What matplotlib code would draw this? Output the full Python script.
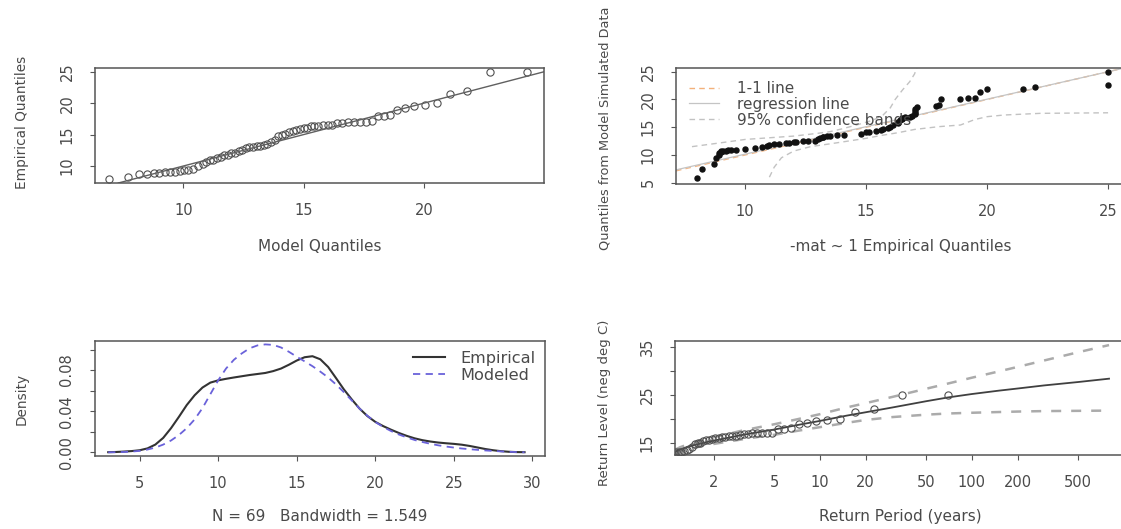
import matplotlib
matplotlib.use("Agg")
import matplotlib.pyplot as plt
from matplotlib.lines import Line2D

# ---------------- data ----------------
model_quantiles = [6.9, 7.7, 8.15, 8.5, 8.8, 9.0, 9.25, 9.45, 9.65, 9.85,
                   10.05, 10.2, 10.4, 10.6, 10.8, 10.95, 11.1, 11.25, 11.4, 11.55,
                   11.7, 11.85, 12.0, 12.15, 12.3, 12.45, 12.6, 12.75, 12.9, 13.05,
                   13.2, 13.35, 13.5, 13.65, 13.8, 13.95, 14.1, 14.25, 14.4, 14.55,
                   14.7, 14.85, 15.0, 15.15, 15.3, 15.45, 15.6, 15.8, 16.0, 16.2,
                   16.4, 16.6, 16.85, 17.1, 17.35, 17.6, 17.85, 18.1, 18.35, 18.6,
                   18.9, 19.2, 19.6, 20.05, 20.55, 21.1, 21.8, 22.75, 24.3]
empirical_sorted = [8.0, 8.2, 8.7, 8.8, 8.9, 8.9, 9.0, 9.0, 9.1, 9.2,
                    9.3, 9.4, 9.6, 10.0, 10.4, 10.7, 10.9, 11.0, 11.2, 11.4,
                    11.7, 11.8, 12.0, 12.1, 12.4, 12.6, 12.9, 13.0, 13.1, 13.2,
                    13.2, 13.4, 13.5, 13.8, 14.1, 14.8, 15.0, 15.1, 15.4, 15.6,
                    15.7, 15.9, 16.0, 16.1, 16.3, 16.3, 16.4, 16.5, 16.5, 16.6,
                    16.8, 16.9, 17.0, 17.0, 17.0, 17.0, 17.1, 17.9, 18.0, 18.1,
                    18.9, 19.2, 19.5, 19.7, 20.0, 21.5, 22.0, 25.0, 25.0]
simulated_sorted = [5.8, 7.4, 8.3, 9.4, 10.0, 10.3, 10.6, 10.7, 10.8, 10.8,
                    10.9, 10.9, 10.9, 11.0, 11.2, 11.4, 11.6, 11.8, 12.0, 12.0,
                    12.1, 12.1, 12.4, 12.4, 12.5, 12.5, 12.5, 12.8, 13.0, 13.2,
                    13.3, 13.4, 13.5, 13.6, 13.6, 13.8, 14.1, 14.2, 14.4, 14.5,
                    14.7, 14.9, 15.1, 15.4, 15.7, 16.0, 16.3, 16.5, 16.6, 16.8,
                    16.9, 17.1, 17.3, 17.6, 17.9, 18.3, 18.6, 18.8, 19.0, 20.1,
                    20.1, 20.2, 20.3, 21.4, 21.8, 21.8, 22.3, 22.6, 25.0]
ci_upper_x = [7.8, 9.0, 10.0, 11.0, 12.0, 13.0, 13.5, 14.0, 14.6, 15.0, 15.3, 15.7,
              16.0, 16.2, 16.5, 16.8, 17.0, 17.1]
ci_upper_y = [11.5, 12.2, 12.8, 13.1, 13.4, 13.9, 14.2, 14.7, 15.4, 15.9, 16.3, 17.2,
              18.5, 20.0, 21.7, 23.2, 24.6, 25.8]
ci_lower_x = [11.0, 11.2, 11.5, 12.0, 12.7, 13.5, 14.1, 15.0, 15.6, 16.3, 17.0, 18.0,
              18.9, 19.5, 20.0, 20.7, 22.2, 25.0]
ci_lower_y = [6.0, 7.8, 9.5, 10.7, 11.5, 12.0, 12.4, 13.0, 13.5, 14.0, 14.6, 15.1,
              15.4, 16.4, 16.9, 17.2, 17.5, 17.6]
reg_intercept = 0.25
reg_slope = 0.99

dens_x = [3.0, 3.5, 4.0, 4.5, 5.0, 5.5, 6.0, 6.5, 7.0, 7.5, 8.0, 8.5, 9.0, 9.5,
          10.0, 10.5, 11.0, 11.5, 12.0, 12.5, 13.0, 13.5, 14.0, 14.5, 15.0, 15.5,
          16.0, 16.5, 17.0, 17.5, 18.0, 18.5, 19.0, 19.5, 20.0, 20.5, 21.0, 21.5,
          22.0, 22.5, 23.0, 23.5, 24.0, 24.5, 25.0, 25.5, 26.0, 26.5, 27.0, 27.5,
          28.0, 28.5, 29.0, 29.5]
dens_emp = [0.0001, 0.0003, 0.0007, 0.0012, 0.0020, 0.0038, 0.0075, 0.0140, 0.0235,
            0.0345, 0.0460, 0.0555, 0.0630, 0.0678, 0.0700, 0.0715, 0.0728, 0.0740,
            0.0752, 0.0762, 0.0772, 0.0790, 0.0815, 0.0852, 0.0893, 0.0925, 0.0935,
            0.0905, 0.0830, 0.0722, 0.0612, 0.0515, 0.0425, 0.0352, 0.0296, 0.0255,
            0.0220, 0.0188, 0.0160, 0.0136, 0.0118, 0.0105, 0.0095, 0.0088, 0.0082,
            0.0074, 0.0062, 0.0047, 0.0032, 0.0020, 0.0011, 0.0005, 0.0002, 0.0001]
dens_mod = [0.0000, 0.0001, 0.0003, 0.0007, 0.0014, 0.0027, 0.0046, 0.0075, 0.0115,
            0.0168, 0.0235, 0.0320, 0.0430, 0.0565, 0.0700, 0.0815, 0.0900, 0.0962,
            0.1012, 0.1040, 0.1050, 0.1045, 0.1020, 0.0978, 0.0930, 0.0885, 0.0838,
            0.0785, 0.0728, 0.0660, 0.0585, 0.0505, 0.0425, 0.0355, 0.0295, 0.0247,
            0.0207, 0.0173, 0.0145, 0.0120, 0.0100, 0.0083, 0.0068, 0.0056, 0.0046,
            0.0037, 0.0030, 0.0024, 0.0018, 0.0013, 0.0009, 0.0005, 0.0002, 0.0000]
n_obs = 69
bandwidth = 1.549

rl_emp_period = [0.2354, 0.2813, 0.3175, 0.3494, 0.3789, 0.4070, 0.4343, 0.4610, 0.4875,
                 0.5139, 0.5404, 0.5670, 0.5940, 0.6213, 0.6492, 0.6776, 0.7066, 0.7363,
                 0.7668, 0.7982, 0.8306, 0.8639, 0.8985, 0.9342, 0.9713, 1.0097, 1.0496,
                 1.0913, 1.1348, 1.1802, 1.2277, 1.2775, 1.3298, 1.3849, 1.4426, 1.5038,
                 1.5684, 1.6369, 1.7097, 1.7870, 1.8695, 1.9577, 2.0521, 2.1538, 2.2635,
                 2.3815, 2.5100, 2.6504, 2.8035, 2.9718, 3.1576, 3.3636, 3.5945, 3.8536,
                 4.1459, 4.4823, 4.8685, 5.3163, 5.8480, 6.4851, 7.2674, 8.2372, 9.4877,
                 11.161, 13.495, 17.007, 22.831, 34.483, 69.499]
rl_period = [1.114, 1.2, 1.35, 1.5, 1.75, 2, 2.5, 3, 4, 5, 7, 10, 15, 20, 30, 50, 70,
             100, 150, 200, 300, 500, 800]
rl_level = [13.1, 13.6, 14.2, 14.6, 15.1, 15.5, 16.1, 16.6, 17.3, 17.8, 18.7, 19.6,
            20.7, 21.4, 22.4, 23.7, 24.5, 25.2, 25.9, 26.35, 27.0, 27.7, 28.4]
rl_upper = [13.6, 14.1, 14.7, 15.2, 15.7, 16.2, 16.9, 17.5, 18.3, 18.9, 19.9, 21.0,
            22.4, 23.3, 24.6, 26.3, 27.4, 28.6, 29.9, 30.85, 32.2, 33.9, 35.4]
rl_lower = [12.6, 13.1, 13.7, 14.0, 14.5, 14.8, 15.3, 15.7, 16.3, 16.7, 17.5, 18.3,
            19.2, 19.8, 20.4, 20.9, 21.15, 21.3, 21.45, 21.55, 21.65, 21.7, 21.75]

# ---------------- style ----------------
TXT = "#4a4a4a"
SP = "#555555"
plt.rcParams["font.family"] = ["DejaVu Sans"]
plt.rcParams["font.size"] = 10

W, H = 1121, 529
fig = plt.figure(figsize=(W / 100, H / 100), dpi=100)


def add_ax(l, t, r, b):
    return fig.add_axes([l / W, 1 - b / H, (r - l) / W, (b - t) / H])


def style(ax, xlab, ylab, xlab_y, ylab_x, ylab_yc=0.5, ylab_fs=9.0):
    for s in ax.spines.values():
        s.set_color(SP)
        s.set_linewidth(1.1)
    ax.tick_params(axis="both", direction="out", length=3.8, width=0.8,
                   colors=SP, labelcolor=TXT, labelsize=10.5)
    ax.tick_params(axis="x", pad=10.5)
    ax.tick_params(axis="y", pad=11, labelrotation=90)
    for lab in ax.get_yticklabels():
        lab.set_verticalalignment("center")
    ax.set_xlabel(xlab, color=TXT, fontsize=11, va="center")
    ax.set_ylabel(ylab, color=TXT, fontsize=ylab_fs, va="center")
    ax.xaxis.set_label_coords(0.5, xlab_y)
    ax.yaxis.set_label_coords(ylab_x, ylab_yc)


ax1 = add_ax(95, 68, 544, 183)
ax2 = add_ax(676, 68, 1125, 184)
ax3 = add_ax(95, 341, 545, 456)
ax4 = add_ax(675, 341, 1125, 455)

# ---- panel 1: QQ plot ----
ax1.plot(model_quantiles, empirical_sorted, linestyle="none", marker="o",
         markersize=5.2, markerfacecolor="none", markeredgecolor="#505050",
         markeredgewidth=0.8)
ax1.axline((10, 10), slope=1, color="#606060", lw=1.0)
ax1.set_xlim(6.33, 25.0)
ax1.set_ylim(7.3, 25.6)
ax1.set_xticks([10, 15, 20])
ax1.set_yticks([10, 15, 20, 25])
style(ax1, "Model Quantiles", "Empirical Quantiles", -0.554, -0.163, 0.53, 9.8)

# ---- panel 2: simulated QQ ----
ax2.axline((10, 10), slope=1, color="#F3B07A", lw=1.0, ls=(0, (4, 3)), alpha=0.9)
ax2.axline((10, reg_intercept + reg_slope * 10), slope=reg_slope, color="#C4C4C4", lw=0.9)
ax2.plot(ci_upper_x, ci_upper_y, color="#C2C2C2", lw=1.0, ls=(0, (4, 3)))
ax2.plot(ci_lower_x, ci_lower_y, color="#C2C2C2", lw=1.0, ls=(0, (4, 3)))
ax2.plot(empirical_sorted, simulated_sorted, linestyle="none", marker="o",
         markersize=3.6, color="#111111")
ax2.set_xlim(7.14, 25.7)
ax2.set_ylim(4.77, 25.67)
ax2.set_xticks([10, 15, 20, 25])
ax2.set_yticks([5, 10, 15, 20, 25])
style(ax2, "-mat ~ 1 Empirical Quantiles", "Quantiles from Model Simulated Data",
      -0.54, -0.159, 0.478, 9.3)
h2 = [Line2D([], [], color="#F3B07A", lw=1.0, ls=(0, (4, 3))),
      Line2D([], [], color="#C4C4C4", lw=0.9),
      Line2D([], [], color="#C2C2C2", lw=1.0, ls=(0, (4, 3)))]
leg2 = ax2.legend(h2, ["1-1 line", "regression line", "95% confidence bands"],
                  loc="upper left", bbox_to_anchor=(0.0, 1.0), frameon=False,
                  fontsize=11, handlelength=1.96, handletextpad=1.18,
                  labelspacing=0.05, borderaxespad=0.55, borderpad=0.3)
for t in leg2.get_texts():
    t.set_color(TXT)

# ---- panel 3: density ----
ax3.plot(dens_x, dens_emp, color="#333333", lw=1.5, label="Empirical")
ax3.plot(dens_x, dens_mod, color="#6A62DA", lw=1.3, ls=(0, (4, 3)), label="Modeled")
ax3.set_xlim(2.16, 30.8)
ax3.set_ylim(-0.0036, 0.1083)
ax3.set_xticks([5, 10, 15, 20, 25, 30])
ax3.set_yticks([0.0, 0.02, 0.04, 0.06, 0.08, 0.10])
ax3.set_yticklabels(["0.00", "", "0.04", "", "0.08", ""])
style(ax3, f"N = {n_obs}   Bandwidth = {bandwidth}", "Density", -0.164, -0.164, 0.5, 9.8)
ax3.xaxis.set_label_coords(0.5, -0.528)
leg3 = ax3.legend(loc="upper right", bbox_to_anchor=(1.0, 1.0), frameon=False,
                  fontsize=11.6, handlelength=2.0, handletextpad=0.94,
                  labelspacing=0.12, borderaxespad=0.35, borderpad=0.26)
for t in leg3.get_texts():
    t.set_color(TXT)

# ---- panel 4: return level ----
ax4.set_xscale("log")
ax4.plot(rl_period, rl_upper, color="#ABABAB", lw=1.8, ls=(0, (4, 4)))
ax4.plot(rl_period, rl_lower, color="#ABABAB", lw=1.8, ls=(0, (4, 4)))
ax4.plot(rl_period, rl_level, color="#404040", lw=1.3)
ax4.plot(rl_emp_period, empirical_sorted, linestyle="none", marker="o",
         markersize=5.2, markerfacecolor="none", markeredgecolor="#505050",
         markeredgewidth=0.8)
ax4.set_xlim(1.114, 1019)
ax4.set_ylim(12.5, 36.25)
ax4.set_xticks([2, 5, 10, 20, 50, 100, 200, 500])
ax4.set_xticklabels(["2", "5", "10", "20", "50", "100", "200", "500"])
ax4.xaxis.set_minor_locator(matplotlib.ticker.NullLocator())
ax4.set_yticks([15, 20, 25, 30, 35])
ax4.set_yticklabels(["15", "", "25", "", "35"])
style(ax4, "Return Period (years)", "Return Level (neg deg C)", -0.541, -0.156, 0.46, 9.5)

fig.savefig("out.png", dpi=100)
